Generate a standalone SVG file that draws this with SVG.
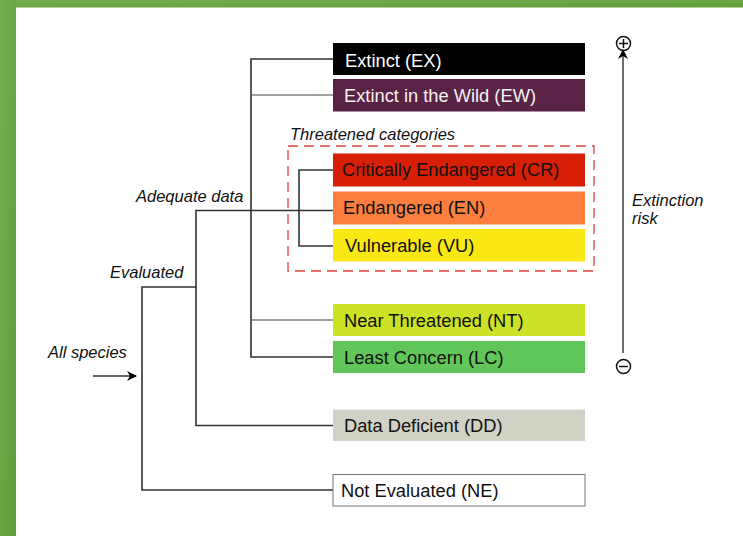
<svg xmlns="http://www.w3.org/2000/svg" width="743" height="536" viewBox="0 0 743 536">
<defs>
<linearGradient id="g" x1="0" y1="0" x2="1" y2="1">
<stop offset="0" stop-color="#74ae52"/><stop offset="1" stop-color="#5f9e37"/>
</linearGradient>
<marker id="ah" viewBox="0 0 10 10" refX="9" refY="5" markerWidth="10" markerHeight="10" markerUnits="userSpaceOnUse" orient="auto"><path d="M0,0 L10,5 L0,10 L3,5 z" fill="#000"/></marker>
<style>
.box text{font-family:"Liberation Sans",Arial,sans-serif;font-size:18.3px;fill:#111}
.lab{font-family:"Liberation Sans",Arial,sans-serif;font-size:16.5px;font-style:italic;fill:#111}
.c{fill:none;stroke:#333;stroke-width:1.6}
.t{fill:none;stroke:#444;stroke-width:1}
</style>
</defs>
<rect width="743" height="536" fill="#fff"/>
<rect x="0" y="0" width="743" height="7.5" fill="url(#g)"/>
<rect x="0" y="0" width="16" height="536" fill="url(#g)"/>

<g id="connectors">
<path class="c" d="M333,59 H251 V357 H333"/>
<path class="t" d="M251,95 H333"/>
<path class="t" d="M251,320 H333"/>
<path class="c" d="M333,170 H299 V246 H333"/>
<path class="c" d="M333,210.5 H196 V425.5 H333"/>
<path class="c" d="M196,287 H142 V490 H333"/>
<path class="c" d="M93,376 H136" marker-end="url(#ah)"/>
</g>

<g id="threatened">
<rect x="288" y="146" width="306" height="125" fill="none" stroke="#e0423a" stroke-width="1.3" stroke-dasharray="10,6"/>
<text class="lab" x="290" y="140">Threatened categories</text>
</g>

<g id="EX" class="box"><rect x="333" y="43" width="252" height="32" fill="#000"/><text x="345" y="67" style="fill:#fff">Extinct (EX)</text></g>
<g id="EW" class="box"><rect x="333" y="79" width="252" height="32.5" fill="#5a2245"/><text x="344" y="101.5" style="fill:#f2f2f2">Extinct in the Wild (EW)</text></g>
<g id="CR" class="box"><rect x="333" y="153.5" width="252" height="33" fill="#d61f06"/><text x="342" y="176">Critically Endangered (CR)</text></g>
<g id="EN" class="box"><rect x="333" y="191.5" width="252" height="33" fill="#fc7f3f"/><text x="343" y="213.5">Endangered (EN)</text></g>
<g id="VU" class="box"><rect x="333" y="229" width="252" height="32.5" fill="#f9e814"/><text x="345" y="252">Vulnerable (VU)</text></g>
<g id="NT" class="box"><rect x="333" y="304" width="252" height="32" fill="#cce226"/><text x="344" y="327">Near Threatened (NT)</text></g>
<g id="LC" class="box"><rect x="333" y="341" width="252" height="32" fill="#60c659"/><text x="344" y="363.5">Least Concern (LC)</text></g>
<g id="DD" class="box"><rect x="333" y="409.5" width="252" height="31.5" fill="#d1d1c6"/><text x="344" y="432">Data Deficient (DD)</text></g>
<g id="NE" class="box"><rect x="333" y="474.5" width="252" height="31.5" fill="#fff" stroke="#777" stroke-width="1"/><text x="341" y="497">Not Evaluated (NE)</text></g>

<g id="labels">
<text class="lab" x="48" y="358">All species</text>
<text class="lab" x="110" y="278">Evaluated</text>
<text class="lab" x="136" y="202">Adequate data</text>
</g>

<g id="risk">
<path d="M623,353 V50" stroke="#222" stroke-width="1.3" fill="none" marker-end="url(#ah)"/>
<circle cx="623.5" cy="43.5" r="7" fill="none" stroke="#111" stroke-width="1.5"/>
<path d="M619,43.5 H628 M623.5,39 V48" stroke="#111" stroke-width="1.5"/>
<circle cx="623.5" cy="366.5" r="7" fill="none" stroke="#111" stroke-width="1.5"/>
<path d="M619,366.5 H628" stroke="#111" stroke-width="1.5"/>
<text class="lab" x="632" y="205.5">Extinction</text>
<text class="lab" x="632" y="224">risk</text>
</g>
</svg>
